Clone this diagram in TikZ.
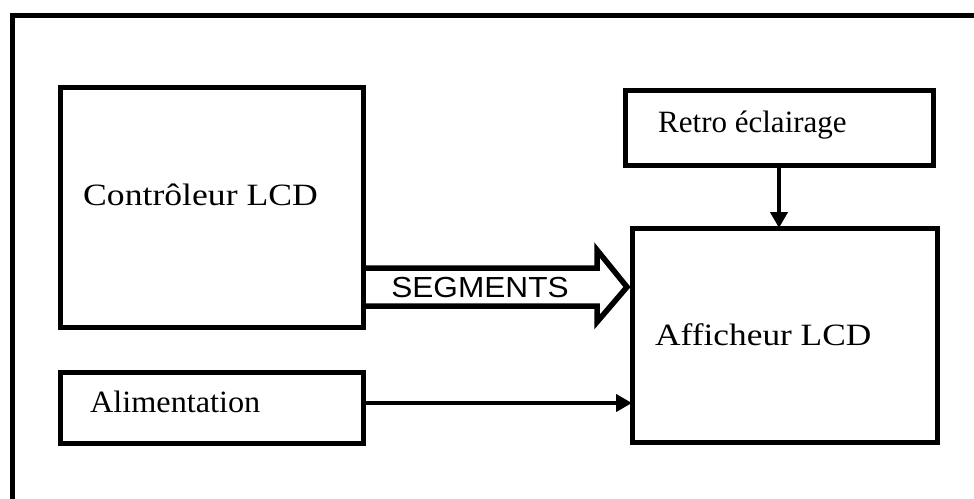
\documentclass[tikz,border=0pt]{standalone}
\usepackage{fontspec}
\setmainfont{Liberation Serif}
\newfontfamily\labelsans{Liberation Sans}
\usetikzlibrary{arrows.meta,calc}
\begin{document}
\begin{tikzpicture}[x=1pt,y=-1pt,
  blockbox/.style={draw, line width=5pt, rectangle, outer sep=0pt, inner sep=0pt, anchor=north west},
  boxlabel/.style={anchor=base west, inner sep=0pt, font=\fontsize{31}{37}\selectfont},
  conn/.style={line width=4.5pt, -{Triangle[length=16pt,width=17pt]}},
  busline/.style={line width=5.5pt, line join=miter},
  framebar/.style={line width=5pt, line join=miter}]
\useasboundingbox (0,0) rectangle (974,498);
\clip (0,0) rectangle (974,498);

% outer frame (only top and left edges fall inside the page)
\draw[framebar] (12,520) -- (12,15) -- (990,15);

% blocks
\node[blockbox, minimum width=303pt, minimum height=240pt] (ctrl)  at (60,87)  {};
\node[blockbox, minimum width=308pt, minimum height=75pt]  (retro) at (625,90) {};
\node[blockbox, minimum width=305pt, minimum height=214pt] (aff)   at (632,228) {};
\node[blockbox, minimum width=303pt, minimum height=71pt]  (alim)  at (60,372) {};

% block texts
\node[boxlabel] (ctrl-t)  at (83,205)  {\scalebox{1.15}[1]{Contrôleur LCD}};
\node[boxlabel] (retro-t) at (658,132) {\scalebox{1.0}[1]{Retro éclairage}};
\node[boxlabel] (aff-t)   at (655,345) {\scalebox{1.14}[1]{Afficheur LCD}};
\node[boxlabel] (alim-t)  at (90,412)  {\scalebox{1.04}[1]{Alimentation}};

% wide bus arrow from the controller to the display
\coordinate (bus-y1)  at (0,268);
\coordinate (bus-y2)  at (0,306);
\coordinate (head-y1) at (0,250);
\coordinate (head-y2) at (0,322);
\coordinate (head-ym) at (0,287);
\coordinate (head-x)  at (597,0);
\coordinate (tip)     at ([xshift=-5pt]aff.west |- head-ym);
\draw[busline] (ctrl.east |- bus-y1) -- (head-x |- bus-y1) -- (head-x |- head-y1)
  -- (tip) -- (head-x |- head-y2) -- (head-x |- bus-y2) -- (ctrl.east |- bus-y2);
\node[anchor=base, inner sep=0pt, font=\labelsans\fontsize{29}{34}\selectfont] (seg)
  at (480,297) {\scalebox{1.09}[1]{SEGMENTS}};

% single-line connectors
\draw[conn] (retro.south) -- (retro.south |- aff.north);
\coordinate (alim-out) at ([yshift=4.5pt]alim.east);
\draw[conn] (alim-out) -- (alim-out -| aff.west);
\end{tikzpicture}
\end{document}
